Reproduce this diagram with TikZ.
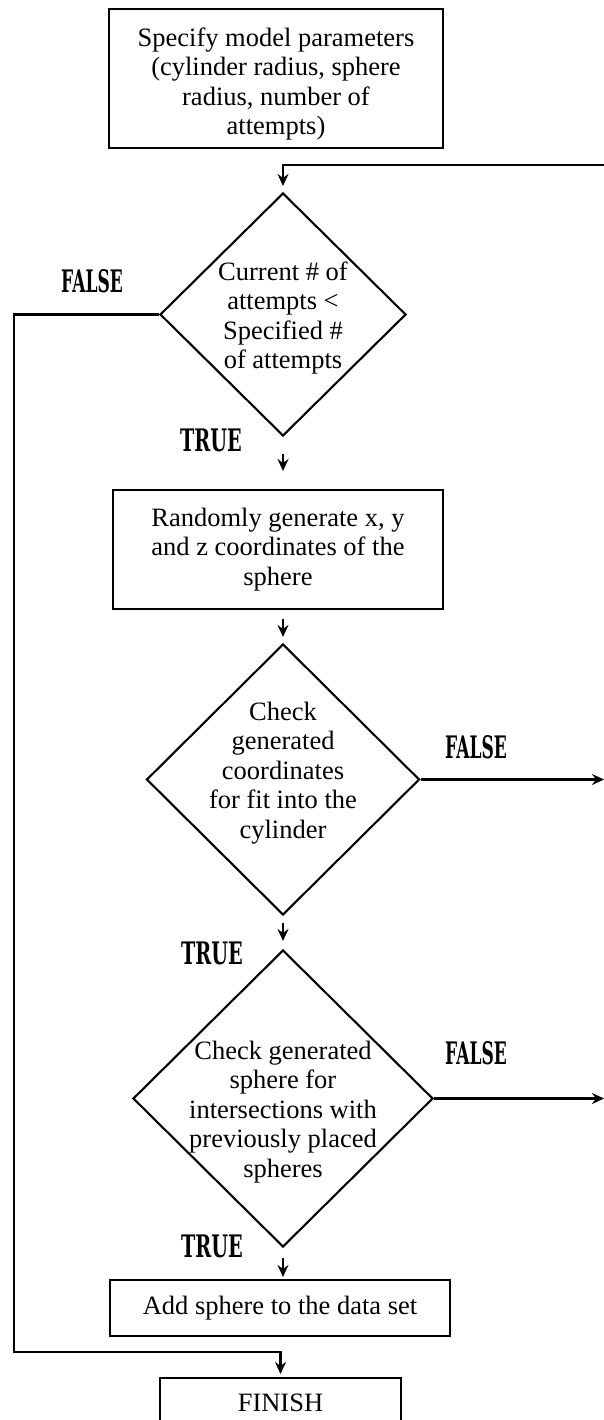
\documentclass[tikz,border=0pt]{standalone}
\usepackage{fontspec}
\setmainfont{Liberation Serif}
\newfontfamily\lblfont{DejaVu Serif}
\usetikzlibrary{shapes.geometric,arrows.meta}
\begin{document}
\begin{tikzpicture}[x=1pt,y=-1pt, line width=2.1pt,
  txt/.style={font=\fontsize{26.5}{29.5}\selectfont, align=center, inner sep=0pt},
  boxn/.style={draw, rectangle, inner sep=0pt, font=\fontsize{26.5}{29.5}\selectfont, align=center},
  dia/.style={draw, diamond, inner sep=0pt},
  arr/.style={-{Stealth[length=12pt,width=11pt,inset=4pt]}},
  lbl/.style={inner sep=0pt, font=\lblfont\bfseries\fontsize{31}{31}\selectfont}]
\fill[white] (0,0) rectangle (604,1420);
\useasboundingbox (0,0) rectangle (604,1420);
% nodes
\node[boxn, minimum width=334pt, minimum height=139pt] (start) at (276,78.5) {};
\node[txt] (startt) at (276,84) {Specify model parameters\\(cylinder radius, sphere\\radius, number of\\attempts)};
\node[dia, minimum width=246pt, minimum height=243pt] (d1) at (283,314.5) {};
\node[txt] (d1t) at (283,318) {Current \# of\\attempts <\\Specified \#\\of attempts};
\node[boxn, minimum width=330pt, minimum height=119pt] (b2) at (278,549.5) {Randomly generate x, y\\and z coordinates of the\\sphere};
\node[dia, minimum width=273pt, minimum height=271pt] (d2) at (283,779.5) {};
\node[txt] (d2t) at (283,773) {Check\\generated\\coordinates\\for fit into the\\cylinder};
\node[dia, minimum width=300pt, minimum height=297pt] (d3) at (283,1098.5) {};
\node[txt] (d3t) at (283,1112) {Check generated\\sphere for\\intersections with\\previously placed\\spheres};
\node[boxn, minimum width=340pt, minimum height=56pt] (b4) at (280,1308) {Add sphere to the data set};
\node[boxn, minimum width=241pt, minimum height=50pt, anchor=north] (fin) at (280.5,1377) {FINISH};
% labels
\node[lbl] (f1) at (92,281) {\scalebox{0.55}[1]{FALSE}};
\node[lbl] (t1) at (211,440) {\scalebox{0.62}[1]{TRUE}};
\node[lbl] (f2) at (476,747) {\scalebox{0.55}[1]{FALSE}};
\node[lbl] (t2) at (212,953) {\scalebox{0.62}[1]{TRUE}};
\node[lbl] (f3) at (476,1053) {\scalebox{0.55}[1]{FALSE}};
\node[lbl] (t3) at (212,1246) {\scalebox{0.62}[1]{TRUE}};
% connectors
\coordinate (in) at (604,165);
\coordinate (c1) at (14,1352);
\coordinate (o2) at (604,779.5);
\coordinate (o3) at (604,1098.5);
\draw[arr, shorten >=6pt] (in) -| (d1.north);
\draw[arr, shorten >=3pt] (d1.west) -| (c1) -| (fin.north);
\draw[arr, shorten <=17pt, shorten >=18pt] (d1.south) -- (d1.south |- b2.north);
\draw[arr, shorten <=9pt, shorten >=6pt] (d2.north |- b2.south) -- (d2.north);
\draw[arr, shorten <=7pt, shorten >=8pt] (d2.south) -- (d3.north);
\draw[arr, shorten <=10pt, shorten >=2pt] (d3.south) -- (d3.south |- b4.north);
\draw[arr] (d2.east) -- (o2);
\draw[arr] (d3.east) -- (o3);
\end{tikzpicture}
\end{document}
